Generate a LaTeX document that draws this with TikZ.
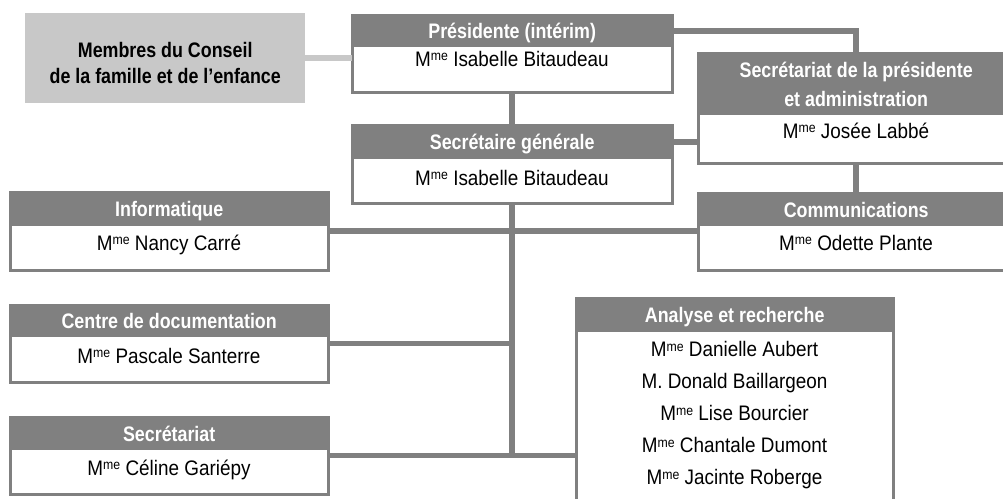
\documentclass[tikz,border=0pt]{standalone}
\usepackage{fontspec}
\setmainfont{Liberation Sans}[FakeStretch=0.9]
\newfontfamily\headfont{Liberation Sans}[FakeStretch=0.85]
\usepackage{tikz}

\definecolor{boxgray}{HTML}{808080}
\definecolor{palegray}{HTML}{C8C8C8}
\newcommand{\orgfont}{\fontsize{21}{32}\selectfont}
\newcommand{\Mme}{M\raisebox{.24em}{\scalebox{.65}{me}}}

\tikzset{
  box/.style={draw=boxgray, line width=3pt, fill=white, anchor=north west,
    inner sep=0pt, outer sep=0pt},
  head/.style={fill=boxgray, text=white, font=\orgfont\headfont\bfseries,
    anchor=north west, inner sep=0pt, text height=15pt, text depth=0pt},
  headtwo/.style={fill=boxgray, text=white, align=center, anchor=north west,
    inner sep=0pt, font=\orgfont\headfont\bfseries\fontsize{21}{29}\selectfont},
  who/.style={anchor=base, inner sep=0pt},
  link/.style={draw=boxgray, line width=5.5pt},
  lightlink/.style={draw=palegray, line width=5.5pt},
}

\begin{document}
\begin{tikzpicture}[x=1pt, y=-1pt, font=\orgfont]
  \useasboundingbox (0,0) rectangle (1003,498);

  % conseil
  \node[fill=palegray, anchor=north west, minimum width=280pt, minimum height=90pt] (membres) at (25,13) {};
  \node[align=center, yshift=-4.5pt, font=\orgfont\headfont\bfseries\fontsize{21}{26}\selectfont] (membres-t) at (membres.center) {Membres du Conseil\\de la famille et de l’enfance};

  % presidente et secretaire generale
  \node[box, minimum width=320pt, minimum height=77pt] (pres) at (352,15) {};
  \node[head, minimum width=320pt, minimum height=32pt] (pres-h) at (pres.north west) {Présidente (intérim)};
  \node[who] (pres-n) at (512,66) {\Mme{} Isabelle Bitaudeau};

  \node[box, minimum width=320pt, minimum height=78pt] (sg) at (352,125) {};
  \node[head, minimum width=320pt, minimum height=34pt] (sg-h) at (sg.north west) {Secrétaire générale};
  \node[who] (sg-n) at (512,185) {\Mme{} Isabelle Bitaudeau};

  % colonne de droite
  \node[box, minimum width=316pt, minimum height=110pt] (secpres) at (698,53) {};
  \node[headtwo, minimum width=316pt, minimum height=62pt] (secpres-h) at (secpres.north west) {Secrétariat de la présidente\\et administration};
  \node[who] (secpres-n) at (856,138) {\Mme{} Josée Labbé};

  \node[box, minimum width=316pt, minimum height=77pt] (comm) at (698,193) {};
  \node[head, minimum width=316pt, minimum height=33pt] (comm-h) at (comm.north west) {Communications};
  \node[who] (comm-n) at (856,250) {\Mme{} Odette Plante};

  % colonne de gauche
  \node[box, minimum width=318pt, minimum height=78pt] (info) at (10,192) {};
  \node[head, minimum width=318pt, minimum height=34pt] (info-h) at (info.north west) {Informatique};
  \node[who] (info-n) at (169,250) {\Mme{} Nancy Carré};

  \node[box, minimum width=318pt, minimum height=77pt] (doc) at (10,305) {};
  \node[head, minimum width=318pt, minimum height=32pt] (doc-h) at (doc.north west) {Centre de documentation};
  \node[who] (doc-n) at (169,363) {\Mme{} Pascale Santerre};

  \node[box, minimum width=318pt, minimum height=77pt] (secr) at (10,417) {};
  \node[head, minimum width=318pt, minimum height=33pt] (secr-h) at (secr.north west) {Secrétariat};
  \node[who] (secr-n) at (169,475) {\Mme{} Céline Gariépy};

  % analyse
  \node[box, minimum width=317pt, minimum height=240pt] (analyse) at (576,298) {};
  \node[head, minimum width=317pt, minimum height=34pt] (analyse-h) at (analyse.north west) {Analyse et recherche};
  \node[align=center, anchor=north, inner sep=0pt] (analyse-n) at (734.5,341) {\Mme{} Danielle Aubert\\M. Donald Baillargeon\\\Mme{} Lise Bourcier\\\Mme{} Chantale Dumont\\\Mme{} Jacinte Roberge};

  % liens
  \draw[lightlink] (membres.east) -- (membres.east -| pres.west);
  \draw[link] (pres.south) -- (sg.north);
  \draw[link] (pres-h.east) -| (secpres.north);
  \draw[link] (sg-h.east) -- (sg-h.east -| secpres.west);
  \draw[link] (secpres.south) -- (comm.north);
  \draw[link] (sg.south) -- (sg.south |- secr.east);
  \draw[link] (info.east) -- (info.east -| comm.west);
  \draw[link] (doc.east) -- (doc.east -| sg.south);
  \draw[link] (secr.east) -- (secr.east -| analyse.west);
\end{tikzpicture}
\end{document}
